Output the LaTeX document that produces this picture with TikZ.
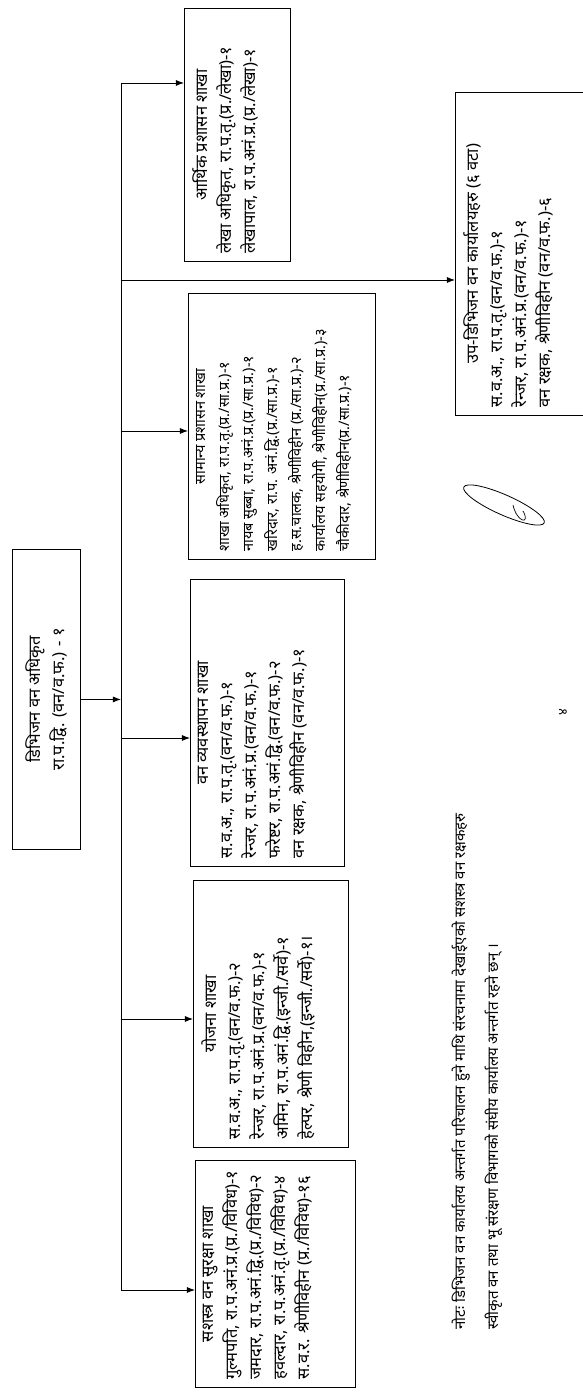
\documentclass[tikz,border=0pt]{standalone}
\usepackage{fontspec}
\newfontfamily\devfont[Script=Devanagari]{Noto Sans}
\usetikzlibrary{arrows.meta,positioning}
\newcommand{\unitcell}[3]{\parbox[c][#1][t]{#2}{\raggedright\fontsize{16.5}{24}\selectfont #3}}

\begin{document}
\begin{tikzpicture}[
rotate=90, transform shape, x=1pt, y=1pt,
font=\devfont\fontsize{16.5}{24}\selectfont,
unitbox/.style={draw, line width=1.1pt, inner sep=8pt, anchor=north west},
arrow/.style={-{Latex[length=8pt,width=6pt]}, line width=0.9pt}
]
\useasboundingbox (0,0) rectangle (1395,583);

\node[unitbox, align=center, minimum width=300pt, minimum height=68pt] (dfo) at (545,571) {डिभिजन वन अधिकृत\\ रा.प.द्वि. (वन/व.फ.) - १};

\node[unitbox] (sec) at (7,388) {\unitcell{144pt}{211pt}{{\centering\bfseries सशस्त्र वन सुरक्षा शाखा\par}
गुल्मपति, रा.प.अनं.प्र.(प्र./विविध)-१\\
जमदार, रा.प.अनं.द्वि.(प्र./विविध)-२\\
हवल्दार, रा.प.अनं.तृ.(प्र./विविध)-४\\
स.व.र. श्रेणीविहीन (प्र./विविध)-१६}};
\node[unitbox] (plan) at (247,390) {\unitcell{139pt}{251pt}{{\centering\bfseries योजना शाखा\par}
स.व.अ., रा.प.तृ.(वन/व.फ.)-२\\
रेन्जर, रा.प.अनं.प्र.(वन/व.फ.)-१\\
अमिन, रा.प.अनं.द्वि.(इन्जी./सर्वे)-१\\
हेल्पर, श्रेणी विहीन,(इन्जी./सर्वे)-१।}};
\node[unitbox] (mgmt) at (528,393) {\unitcell{138pt}{271pt}{{\centering\bfseries वन व्यवस्थापन शाखा\par}
स.व.अ., रा.प.तृ.(वन/व.फ.)-१\\
रेन्जर, रा.प.अनं.प्र.(वन/व.फ.)-१\\
फरेष्टर, रा.प.अनं.द्वि.(वन/व.फ.)-२\\
वन रक्षक, श्रेणीविहीन (वन/व.फ.)-१}};
\node[unitbox] (admin) at (835,395) {\unitcell{171pt}{250pt}{\fontsize{14.5}{24}\selectfont{\centering\bfseries सामान्य प्रशासन शाखा\par}
शाखा अधिकृत, रा.प.तृ.(प्र./सा.प्र.)-१\\
नायब सुब्बा, रा.प.अनं.प्र.(प्र./सा.प्र.)-१\\
खरिदार, रा.प. अनं.द्वि.(प्र./सा.प्र.)-१\\
ह.स.चालक, श्रेणीविहीन (प्र./सा.प्र.)-२\\
कार्यालय सहयोगी, श्रेणीविहीन(प्र./सा.प्र.)-३\\
चौकीदार, श्रेणीविहीन(प्र./सा.प्र.)-१}};
\node[unitbox] (fin) at (1133,399) {\unitcell{90pt}{237pt}{{\centering\bfseries आर्थिक प्रशासन शाखा\par}
लेखा अधिकृत, रा.प.तृ.(प्र./लेखा)-१\\
लेखापाल, रा.प.अनं.प्र.(प्र./लेखा)-१}};
\node[unitbox] (sub) at (979,128) {\unitcell{134pt}{307pt}{{\centering\bfseries उप-डिभिजन वन कार्यालयहरु (६ वटा)\par}
स.व.अ., रा.प.तृ.(वन/व.फ.)-१\\
रेन्जर, रा.प.अनं.प्र.(वन/व.फ.)-१\\
वन रक्षक, श्रेणीविहीन (वन/व.फ.)-६}};

% junctions on the common line
\coordinate (j1) at (105,462);
\coordinate (j2) at (376,462);
\coordinate (j3) at (657,462);
\coordinate (j4) at (964,462);
\coordinate (j6) at (1115,462);
\coordinate (j5) at (1312,462);
\draw[line width=0.9pt] (j1) -- (j5);
\draw[arrow] (dfo) -- (dfo |- j1);
\draw[arrow] (j1) -- (j1 |- sec.north);
\draw[arrow] (j2) -- (j2 |- plan.north);
\draw[arrow] (j3) -- (j3 |- mgmt.north);
\draw[arrow] (j4) -- (j4 |- admin.north);
\draw[arrow] (j5) -- (j5 |- fin.north);
\draw[arrow] (j6) -- (j6 |- sub.north);

\node[anchor=west, align=left, font=\devfont\fontsize{15}{33}\selectfont] (note) at (62,106) {नोटः डिभिजन वन कार्यालय अन्तर्गत परिचालन हुने माथि संरचनामा देखाईएको सशस्त्र वन रक्षकहरु\\ स्वीकृत वन तथा भू संरक्षण विभागको संघीय कार्यालय अन्तर्गत रहने छन् ।};
\node[font=\devfont\fontsize{13}{16}\selectfont] (pgno) at (683,20) {४};

% signature
\draw[line width=0.8pt, rotate around={66:(890,79)}] (890,79) ellipse [x radius=44, y radius=10];
\draw[line width=0.7pt] (884,60) .. controls (870,52) and (872,66) .. (890,70);
\end{tikzpicture}
\end{document}
